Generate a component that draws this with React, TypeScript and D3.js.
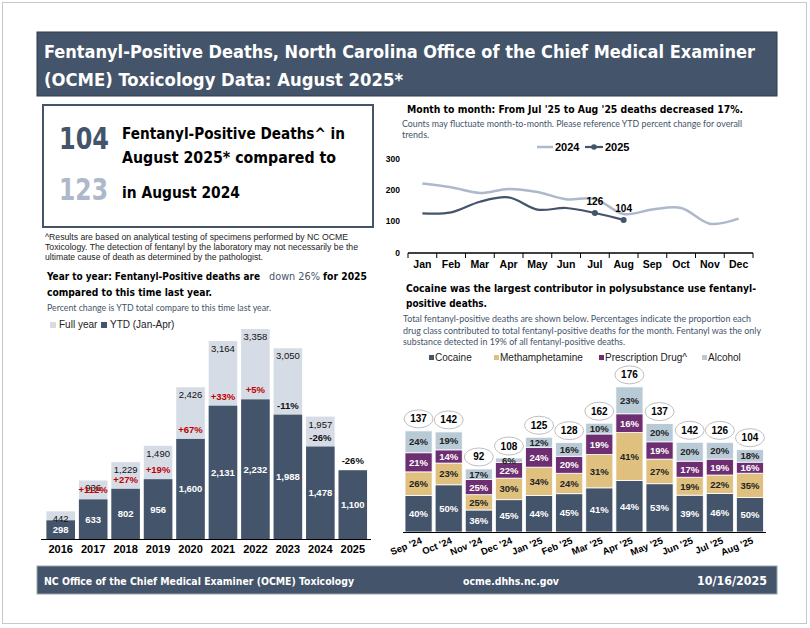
import React, { useLayoutEffect, useRef } from "react";
import * as d3 from "d3";

// ---- year to year (Jan-Aug YTD vs full year) ----
const years = ["2016", "2017", "2018", "2019", "2020", "2021", "2022", "2023", "2024", "2025"];
const fullYearDeaths: (number | null)[] = [442, 936, 1229, 1490, 2426, 3164, 3358, 3050, 1957, null];
const ytdDeaths = [298, 633, 802, 956, 1600, 2131, 2232, 1988, 1478, 1100];

// ---- month to month ----
const months = ["Jan", "Feb", "Mar", "Apr", "May", "Jun", "Jul", "Aug", "Sep", "Oct", "Nov", "Dec"];
const deaths2024 = [220, 208, 190, 203, 193, 170, 171, 123, 137, 142, 92, 108];
const deaths2025 = [125, 128, 162, 176, 137, 142, 126, 104];

// ---- polysubstance ----
const polyMonths = ["Sep '24", "Oct '24", "Nov '24", "Dec '24", "Jan '25", "Feb '25", "Mar '25", "Apr '25", "May '25", "Jun '25", "Jul '25", "Aug '25"];
const polyTotals = [137, 142, 92, 108, 125, 128, 162, 176, 137, 142, 126, 104];
const cocainePct = [40, 50, 36, 45, 44, 45, 41, 44, 53, 39, 46, 50];
const methPct = [26, 23, 25, 30, 34, 24, 31, 41, 27, 19, 22, 35];
const rxPct = [21, 14, 25, 22, 24, 20, 19, 16, 19, 17, 19, 16];
const alcoholPct = [24, 19, 17, 6, 12, 16, 10, 23, 20, 20, 20, 18];
const drugNames = ["Cocaine", "Methamphetamine", "Prescription Drug^", "Alcohol"];

const SLATE = "#44546a";
const LIGHT = "#d6dce5";
const PALE = "#adb9ca";
const RED = "#c00000";
const drugColors = [SLATE, "#dfc07e", "#6e2e72", "#b8cad6"];
const drugText = ["#fff", "#222", "#fff", "#222"];

const NARROW = "'Liberation Sans Narrow', 'Arial Narrow', 'DejaVu Sans Condensed', sans-serif";
const ARIAL = "'Liberation Sans', Arial, sans-serif";
const SOFT = "Lato, 'Open Sans', sans-serif";

type TProps = {
  x: number; y: number; w?: number; size: number; bold?: boolean; fill?: string;
  family?: string; anchor?: "start" | "middle" | "end"; children: React.ReactNode;
};

// text that is fitted to a measured width: the font size is eased toward the
// natural fit, then textLength takes up the rest
const T = ({ x, y, w, size, bold, fill = "#000", family = ARIAL, anchor = "start", children }: TProps) => {
  const ref = useRef<SVGTextElement | null>(null);
  useLayoutEffect(() => {
    const el = ref.current;
    if (!el || !w) return;
    el.removeAttribute("textLength");
    el.removeAttribute("lengthAdjust");
    el.setAttribute("font-size", String(size));
    const nat = el.getComputedTextLength();
    if (nat > 0) {
      const k = Math.max(0.86, Math.min(1.1, w / nat));
      el.setAttribute("font-size", String(size * k));
    }
    el.setAttribute("textLength", String(w));
    el.setAttribute("lengthAdjust", "spacingAndGlyphs");
  });
  return (
    <text
      ref={ref}
      x={x} y={y} fontSize={size} fontWeight={bold ? 700 : 400} fill={fill}
      fontFamily={family} textAnchor={anchor}
    >
      {children}
    </text>
  );
};

const fmt = d3.format(",");

function YearChart() {
  const x = d3.scaleBand<string>().domain(years).range([44.5, 369]).paddingInner(0.12).paddingOuter(0.06);
  const y = d3.scaleLinear().domain([0, 3358]).range([539, 329]);
  const bw = x.bandwidth();
  return (
    <g>
      {years.map((yr, i) => {
        const x0 = x(yr)!;
        const cx = x0 + bw / 2;
        const full = fullYearDeaths[i];
        const ytd = ytdDeaths[i];
        const pct = i > 0 ? Math.round((ytd / ytdDeaths[i - 1] - 1) * 100) : null;
        return (
          <g key={yr}>
            {full != null && <rect x={x0} y={y(full)} width={bw} height={y(0) - y(full)} fill={LIGHT} />}
            <rect x={x0} y={y(ytd)} width={bw} height={y(0) - y(ytd)} fill={SLATE} />
            {full != null && <T x={cx} y={y(full) + 11} size={9.5} anchor="middle" fill="#111">{fmt(full)}</T>}
            <T x={cx} y={(y(ytd) + y(0)) / 2 + 3.5} size={9.5} bold anchor="middle" fill="#fff">{fmt(ytd)}</T>
            {pct != null && (
              <T x={cx} y={y(ytd) - 6} size={9.5} bold anchor="middle" fill={pct > 0 ? RED : "#111"}>
                {(pct > 0 ? "+" : "") + pct + "%"}
              </T>
            )}
            <T x={cx} y={553} size={11} bold anchor="middle">{yr}</T>
          </g>
        );
      })}
      <line x1={41} x2={371} y1={539.5} y2={539.5} stroke="#000" strokeWidth={1.2} />
    </g>
  );
}

function MonthChart() {
  const x = d3.scaleBand<string>().domain(months).range([408, 753]);
  const y = d3.scaleLinear().domain([0, 300]).range([252.5, 158.5]);
  const bw = x.bandwidth();
  const line = d3
    .line<number>()
    .x((_, i) => x(months[i])! + bw / 2)
    .y((d) => y(d))
    .curve(d3.curveCatmullRom.alpha(0.5));
  const ticks = [0, 100, 200, 300];
  const bounds = [...months.map((m) => x(m)!), 753];
  return (
    <g>
      {ticks.map((t) => (
        <T key={t} x={400} y={y(t) + 3} size={8.5} bold anchor="end">{t}</T>
      ))}
      <path d={line(deaths2024)!} fill="none" stroke={PALE} strokeWidth={2.5} />
      <path d={line(deaths2025)!} fill="none" stroke={SLATE} strokeWidth={2.2} />
      {[6, 7].map((i) => (
        <g key={i}>
          <circle cx={x(months[i])! + bw / 2} cy={y(deaths2025[i])} r={3} fill={SLATE} />
          <T x={x(months[i])! + bw / 2} y={y(deaths2025[i]) - 8} size={10} bold anchor="middle">{deaths2025[i]}</T>
        </g>
      ))}
      <line x1={408} x2={753} y1={253} y2={253} stroke="#000" strokeWidth={1.4} />
      {bounds.map((b, i) => (
        <line key={i} x1={b} x2={b} y1={253} y2={258} stroke="#000" strokeWidth={1} />
      ))}
      {months.map((m) => (
        <T key={m} x={x(m)! + bw / 2} y={268} size={10.5} bold anchor="middle">{m}</T>
      ))}
      {/* legend */}
      <line x1={537} x2={553} y1={147} y2={147} stroke={PALE} strokeWidth={2.5} />
      <T x={555} y={151} size={11} bold>2024</T>
      <line x1={585} x2={603} y1={147} y2={147} stroke={SLATE} strokeWidth={2.2} />
      <circle cx={594} cy={147} r={2.8} fill={SLATE} />
      <T x={605} y={151} size={11} bold>2025</T>
    </g>
  );
}

function PolyChart() {
  const x = d3.scaleBand<string>().domain(polyMonths).range([403.5, 765]).paddingInner(0.1).paddingOuter(0.05);
  const y = d3.scaleLinear().domain([0, 220]).range([532, 385.7]);
  const bw = x.bandwidth();
  const pcts = [cocainePct, methPct, rxPct, alcoholPct];
  const rows = polyMonths.map((m, i) => {
    const r: Record<string, number | string> = { month: m };
    pcts.forEach((p, k) => (r["k" + k] = (polyTotals[i] * p[i]) / 100));
    return r;
  });
  const series = d3.stack<Record<string, number | string>>().keys(["k0", "k1", "k2", "k3"])(rows as any);
  return (
    <g>
      {series.map((s, k) =>
        s.map((d, i) => {
          const x0 = x(polyMonths[i])!;
          return (
            <g key={k + "-" + i}>
              <rect x={x0} y={y(d[1])} width={bw} height={y(d[0]) - y(d[1])} fill={drugColors[k]} stroke="#fff" strokeWidth={0.8} />
              <T x={x0 + bw / 2} y={(y(d[0]) + y(d[1])) / 2 + 3.5} size={9.5} bold anchor="middle" fill={drugText[k]}>
                {pcts[k][i] + "%"}
              </T>
            </g>
          );
        })
      )}
      {polyMonths.map((m, i) => {
        const top = y(series[3][i][1]);
        const cx = x(m)! + bw / 2;
        return (
          <g key={m}>
            <ellipse cx={cx} cy={top - 12} rx={14.5} ry={9} fill="#fff" stroke="#bfbfbf" strokeWidth={1} />
            <T x={cx} y={top - 8.5} size={10} bold anchor="middle">{polyTotals[i]}</T>
            <g transform={`translate(${cx + 4},543) rotate(-22)`}>
              <T x={0} y={0} size={9.5} bold anchor="end">{m}</T>
            </g>
          </g>
        );
      })}
      <line x1={403} x2={766} y1={532.5} y2={532.5} stroke="#000" strokeWidth={1.2} />
      {/* legend */}
      {drugNames.map((n, k) => {
        const lx = [429, 494, 599, 702][k];
        return (
          <g key={n}>
            <rect x={lx} y={355} width={5} height={5} fill={drugColors[k]} />
            <T x={lx + 6} y={361} size={10} fill="#222">{n}</T>
          </g>
        );
      })}
    </g>
  );
}

export default function App() {
  return (
    <svg width={810} height={628} style={{ position: "absolute", left: 0, top: 0, background: "#fff" }}>
      <rect x={2.5} y={2.5} width={804} height={621} fill="#fff" stroke="#c8c8c8" />

      {/* title */}
      <rect x={37} y={32} width={740} height={64} fill={SLATE} stroke="#2e3a4a" />
      <T x={44} y={58} w={711} size={21} bold fill="#fff" family={NARROW}>
        Fentanyl-Positive Deaths, North Carolina Office of the Chief Medical Examiner
      </T>
      <T x={44} y={86} w={359} size={21} bold fill="#fff" family={NARROW}>
        (OCME) Toxicology Data: August 2025*
      </T>

      {/* KPI box */}
      <rect x={43} y={105} width={330} height={122} fill="#fff" stroke={SLATE} strokeWidth={2} />
      <T x={59} y={149} w={50} size={36} bold fill={SLATE} family={NARROW}>104</T>
      <T x={59} y={200} w={49} size={36} bold fill={PALE} family={NARROW}>123</T>
      <T x={122} y={139} w={223} size={18} bold family={NARROW}>Fentanyl-Positive Deaths^ in</T>
      <T x={122} y={163} w={214} size={18} bold family={NARROW}>August 2025* compared to</T>
      <T x={122} y={198} w={118} size={18} bold family={NARROW}>in August 2024</T>

      {/* footnote */}
      <T x={45} y={240} w={303} size={9.5} fill="#222">^Results are based on analytical testing of specimens performed by NC OCME</T>
      <T x={45} y={250} w={313} size={9.5} fill="#222">Toxicology. The detection of fentanyl by the laboratory may not necessarily be the</T>
      <T x={45} y={260} w={218} size={9.5} fill="#222">ultimate cause of death as determined by the pathologist.</T>

      {/* year to year heading */}
      <T x={47} y={280} w={213} size={12.5} bold family={NARROW}>Year to year: Fentanyl-Positive deaths are</T>
      <T x={269} y={280} w={51} size={12.5} fill={SLATE} family={NARROW}>down 26%</T>
      <T x={323} y={280} w={44} size={13} bold family={NARROW}>for 2025</T>
      <T x={47} y={296} w={165} size={13} bold family={NARROW}>compared to this time last year.</T>
      <T x={47} y={311} w={224} size={9.5} fill={SLATE} family={SOFT}>Percent change is YTD total compare to this time last year.</T>
      <rect x={50} y={322} width={6} height={6} fill={LIGHT} />
      <T x={59} y={328} size={10} fill="#222">Full year</T>
      <rect x={101} y={322} width={6} height={6} fill={SLATE} />
      <T x={110} y={328} size={10} fill="#222">YTD (Jan-Apr)</T>
      <YearChart />

      {/* month to month */}
      <T x={407} y={113} w={336} size={13} bold family={NARROW}>Month to month: From Jul '25 to Aug '25 deaths decreased 17%.</T>
      <T x={402} y={127} w={340} size={9} fill={SLATE} family={SOFT}>Counts may fluctuate month-to-month. Please reference YTD percent change for overall</T>
      <T x={402} y={138} size={9} fill={SLATE} family={SOFT}>trends.</T>
      <MonthChart />

      {/* polysubstance */}
      <T x={406} y={292} w={350} size={13} bold family={NARROW}>Cocaine was the largest contributor in polysubstance use fentanyl-</T>
      <T x={406} y={307} w={81} size={13} bold family={NARROW}>positive deaths.</T>
      <T x={403} y={322} w={348} size={9} fill={SLATE} family={SOFT}>Total fentanyl-positive deaths are shown below. Percentages indicate the proportion each</T>
      <T x={403} y={334} w={358} size={9} fill={SLATE} family={SOFT}>drug class contributed to total fentanyl-positive deaths for the month. Fentanyl was the only</T>
      <T x={403} y={345} w={222} size={9} fill={SLATE} family={SOFT}>substance detected in 19% of all fentanyl-positive deaths.</T>
      <PolyChart />

      {/* footer */}
      <rect x={37} y={566} width={740} height={28} fill={SLATE} stroke="#9aa3ad" />
      <T x={44} y={585} w={310} size={12.5} bold fill="#fff" family={NARROW}>NC Office of the Chief Medical Examiner (OCME) Toxicology</T>
      <T x={463} y={585} w={96} size={12.5} bold fill="#fff" family={NARROW}>ocme.dhhs.nc.gov</T>
      <T x={767} y={585} w={70} size={12.5} bold fill="#fff" family={NARROW} anchor="end">10/16/2025</T>
    </svg>
  );
}
